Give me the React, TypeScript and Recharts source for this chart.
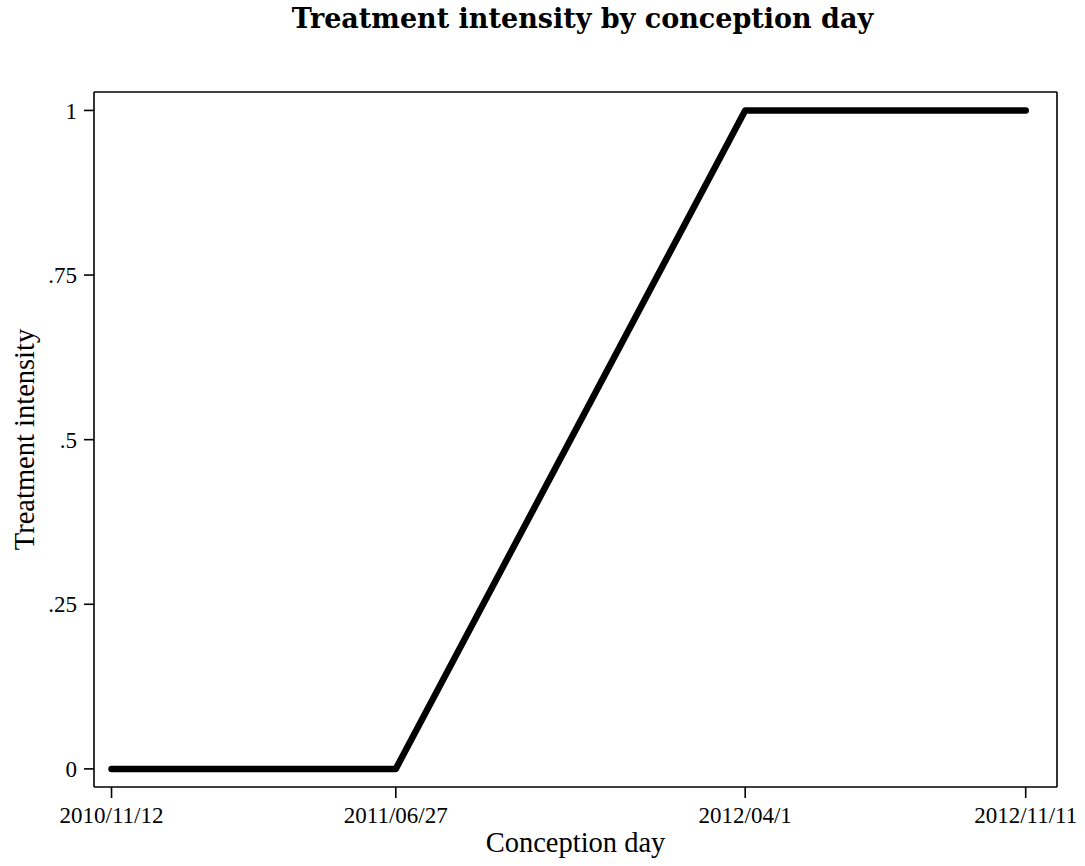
import { Label, Line, LineChart, XAxis, YAxis } from "recharts";

// conception days, as day offsets from 2010/11/12
const dayLabels = ["2010/11/12", "2011/06/27", "2012/04/1", "2012/11/11"];
const dayOffsets = [0, 227, 506, 730];
const intensity = [0, 0, 1, 1];
const yTicks = [0, 0.25, 0.5, 0.75, 1];

const data = dayOffsets.map((d, i) => ({ day: d, intensity: intensity[i] }));

const xDomain = [-14, 755];
const yDomain = [-0.0275, 1.028];

const fmtX = (v: number) => dayLabels[dayOffsets.indexOf(v)] ?? "";
const fmtY = (v: number) => String(v).replace(/^0\./, ".");

const serif = "'Liberation Serif', 'Times New Roman', serif";
const axisStyle = { stroke: "#000", strokeWidth: 1.6 };

export default function App() {
  return (
    <div
      style={{
        position: "absolute",
        left: 0,
        top: 0,
        width: 1085,
        height: 866,
        background: "#fff",
        fontFamily: serif,
      }}
    >
      <div
        style={{
          position: "absolute",
          left: 40,
          top: 3,
          width: 1085,
          textAlign: "center",
          fontFamily: "'DejaVu Serif', serif",
          fontWeight: 700,
          fontSize: 27,
          lineHeight: "32px",
          color: "#000",
        }}
      >
        Treatment intensity by conception day
      </div>
      <LineChart
        width={1085}
        height={866}
        data={data}
        margin={{ top: 91, right: 27, bottom: 0, left: 0 }}
      >
        <XAxis
          xAxisId="b"
          type="number"
          dataKey="day"
          domain={xDomain}
          ticks={dayOffsets}
          tickFormatter={fmtX}
          height={79}
          tickSize={11}
          tickMargin={9}
          axisLine={axisStyle}
          tickLine={axisStyle}
          tick={{ fill: "#000", fontSize: 23, fontFamily: serif }}
        >
          <Label
            value="Conception day"
            position="insideBottom"
            offset={14}
            fill="#000"
            fontSize={28.5}
            fontFamily={serif}
          />
        </XAxis>
        {/* frame: top edge */}
        <XAxis
          xAxisId="t"
          orientation="top"
          type="number"
          domain={xDomain}
          height={1}
          tick={false}
          tickLine={false}
          axisLine={axisStyle}
        />
        <YAxis
          yAxisId="l"
          type="number"
          domain={yDomain}
          ticks={yTicks}
          tickFormatter={fmtY}
          width={94}
          tickSize={10}
          tickMargin={7}
          axisLine={axisStyle}
          tickLine={axisStyle}
          tick={{ fill: "#000", fontSize: 23, fontFamily: serif }}
        >
          <Label
            value="Treatment intensity"
            position="insideLeft"
            angle={-90}
            offset={24}
            fill="#000"
            fontSize={28.5}
            fontFamily={serif}
            style={{ textAnchor: "middle" }}
          />
        </YAxis>
        {/* frame: right edge */}
        <YAxis
          yAxisId="r"
          orientation="right"
          type="number"
          domain={yDomain}
          width={1}
          tick={false}
          tickLine={false}
          axisLine={axisStyle}
        />
        <Line
          xAxisId="b"
          yAxisId="l"
          type="linear"
          dataKey="intensity"
          stroke="#000"
          strokeWidth={6.5}
          strokeLinecap="round"
          strokeLinejoin="round"
          dot={false}
          isAnimationActive={false}
        />
      </LineChart>
    </div>
  );
}
